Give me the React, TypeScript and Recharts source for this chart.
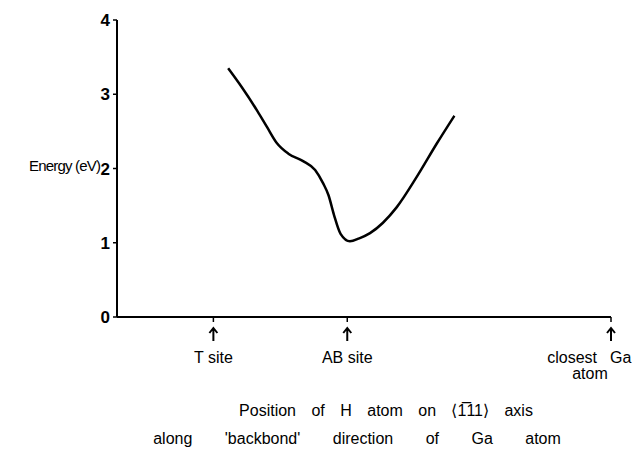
import { LineChart, Line, XAxis, YAxis } from "recharts";

// position along the axis, in units of the T site -> AB site distance (T site = 0)
const positions = [0.11, 0.21, 0.33, 0.4, 0.475, 0.56, 0.67, 0.76, 0.82, 0.86, 0.9, 0.95, 1.02, 1.09, 1.17, 1.37, 1.52, 1.67, 1.8];
const energies = [3.35, 3.1, 2.77, 2.56, 2.34, 2.2, 2.1, 1.98, 1.8, 1.64, 1.38, 1.12, 1.02, 1.06, 1.13, 1.48, 1.89, 2.34, 2.71];

const siteTicks = [0, 1, 2.97];
const siteLabels = ["T site", "AB site", "closest Ga"];
const energyTicks = [0, 1, 2, 3, 4];

const data = positions.map((x, i) => ({ x, energy: energies[i] }));

const FONT = "'Liberation Sans', Arial, sans-serif";

const SiteTick = (props: any) => {
  const { x, y, payload } = props;
  const idx = siteTicks.indexOf(payload.value);
  const label = siteLabels[idx];
  return (
    <g>
      <line x1={x} y1={y} x2={x} y2={y + 5} stroke="#000" strokeWidth={1.5} />
      {/* upward arrow under the tick */}
      <path
        d={`M${x},${y + 24} L${x},${y + 11} M${x - 4},${y + 16} L${x},${y + 11} L${x + 4},${y + 16}`}
        stroke="#000"
        strokeWidth={2}
        fill="none"
      />
      {idx === 2 ? (
        <>
          <text x={x - 14} y={y + 46} textAnchor="end" fontSize={16} fontFamily={FONT} fill="#000">
            closest
          </text>
          <text x={x - 1} y={y + 46} textAnchor="start" fontSize={16} fontFamily={FONT} fill="#000">
            Ga
          </text>
          <text x={x - 21} y={y + 62} textAnchor="middle" fontSize={16} fontFamily={FONT} fill="#000">
            atom
          </text>
        </>
      ) : (
        <text x={x} y={y + 46} textAnchor="middle" fontSize={16} fontFamily={FONT} fill="#000">
          {label}
        </text>
      )}
    </g>
  );
};

const XTitle = () => (
  <g>
    <text x={386} y={416} textAnchor="middle" fontSize={16} fontFamily={FONT} fill="#000" wordSpacing={11}>
      {"Position of H atom on \u27E81\u030511\u27E9 axis"}
    </text>
    <text x={357} y={444} textAnchor="middle" fontSize={16} fontFamily={FONT} fill="#000" wordSpacing={28}>
      {"along 'backbond' direction of Ga atom"}
    </text>
  </g>
);

const YTitle = () => (
  <text x={29} y={171} textAnchor="start" fontSize={15} fontFamily={FONT} fill="#000" letterSpacing={-0.8}>
    Energy (eV)
  </text>
);

const App = () => {
  return (
    <div style={{ position: "absolute", left: 0, top: 0, background: "#fff" }}>
      <LineChart width={633} height={457} data={data} margin={{ top: 20, right: 22, left: 0, bottom: 0 }}>
        <XAxis
          dataKey="x"
          type="number"
          domain={[-0.72, 2.97]}
          ticks={siteTicks}
          allowDataOverflow
          height={140}
          tickSize={0}
          tickMargin={0}
          tick={<SiteTick />}
          axisLine={{ stroke: "#000", strokeWidth: 2 }}
          label={{ content: () => <XTitle /> }}
        />
        <YAxis
          type="number"
          domain={[0, 4]}
          ticks={energyTicks}
          width={117}
          tickSize={4}
          tickMargin={3}
          tick={{ fill: "#000", fontSize: 17, fontWeight: "bold", fontFamily: FONT }}
          tickLine={{ stroke: "#000", strokeWidth: 1.5 }}
          axisLine={{ stroke: "#000", strokeWidth: 2 }}
          label={{ content: () => <YTitle /> }}
        />
        <Line
          dataKey="energy"
          type="monotone"
          stroke="#000"
          strokeWidth={2.5}
          dot={false}
          isAnimationActive={false}
        />
      </LineChart>
    </div>
  );
};

export default App;
